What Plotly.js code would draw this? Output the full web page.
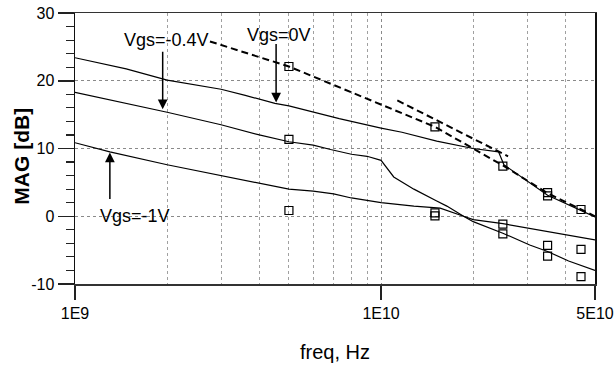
<!DOCTYPE html>
<html>
<head>
<meta charset="utf-8">
<script src="https://cdn.plot.ly/plotly-3.0.1.min.js"></script>
<style>html,body{margin:0;padding:0;background:#fff}#chart{width:615px;height:365px}</style>
</head>
<body>
<div id="chart"></div>
<script>
// Simulated MAG curves (freq in Hz, MAG in dB)
const sim0V_freq = [1e9, 1.47e9, 2e9, 3e9, 3.6e9, 4.5e9, 5e9, 6.84e9, 7.3e9, 1e10, 1.17e10, 1.52e10, 2e10, 2.42e10, 2.52e10, 3.5e10, 4.56e10, 5e10];
const sim0V_mag  = [23.4, 21.75, 20.1, 18.75, 17.85, 16.65, 16.3, 14.75, 14.4, 13.0, 12.4, 11.1, 10.0, 9.5, 7.6, 3.1, 0.75, -0.1];

const simM04V_freq = [1e9, 2e9, 3e9, 4e9, 5e9, 6e9, 6.84e9, 8e9, 9e9, 1e10, 1.1e10, 1.28e10, 1.52e10, 1.64e10, 1.86e10, 2e10, 2.5e10, 3.06e10, 3.5e10, 4.1e10, 5e10];
const simM04V_mag  = [18.3, 15.35, 13.5, 12.0, 11.0, 10.5, 9.85, 9.15, 8.85, 8.25, 5.8, 4.0, 2.25, 1.5, 0.0, -0.8, -2.5, -4.25, -5.2, -6.6, -8.0];

const simM1V_freq = [1e9, 1.3e9, 2e9, 3e9, 4e9, 5e9, 6e9, 7e9, 8e9, 1e10, 1.28e10, 1.56e10, 1.86e10, 2e10, 2.5e10, 3.06e10, 3.9e10, 5e10];
const simM1V_mag  = [10.85, 9.5, 7.6, 6.0, 4.9, 4.0, 3.7, 3.3, 2.7, 2.0, 1.5, 1.2, 0.0, -0.5, -1.1, -1.8, -2.6, -3.5];

// Measured MAG (open squares)
const meas0V_freq = [5e9, 1.5e10, 2.5e10, 3.5e10, 3.5e10, 4.5e10];
const meas0V_mag  = [22.1, 13.2, 7.4, 3.5, 3.0, 1.0];
const measM04V_freq = [5e9, 1.5e10, 2.5e10, 3.5e10, 4.5e10];
const measM04V_mag  = [11.35, 0.5, -2.6, -5.9, -8.9];
const measM1V_freq = [5e9, 1.5e10, 2.5e10, 3.5e10, 4.5e10];
const measM1V_mag  = [0.85, 0.05, -1.15, -4.3, -4.9];

// Dashed guide lines
const dash1_freq = [2.76e9, 5e9, 1.5e10, 2.5e10, 3.5e10, 4.5e10, 5e10];
const dash1_mag  = [25.8, 22.1, 13.2, 7.5, 3.4, 1.0, 0.0];
const dash2_freq = [1.13e10, 2.6e10];
const dash2_mag  = [17.1, 8.85];

// Tick labels
const xTickVals = [1e9, 1e10, 5e10];
const xTickText = ['1E9', '1E10', '5E10'];
const xMinorVals = [2e9, 3e9, 4e9, 5e9, 6e9, 7e9, 8e9, 9e9, 2e10, 3e10, 4e10];
const yTickVals = [-10, 0, 10, 20, 30];
const yTickText = ['-10', '0', '10', '20', '30'];

// Bias labels and arrow tips
const labelText = ['Vgs=-0.4V', 'Vgs=0V', 'Vgs=-1V'];
const labelFreq = [1.99e9, 4.65e9, 1.57e9];
const labelMag  = [26.05, 26.8, 0.0];
const arrowFreq = [1.934e9, 4.54e9, 1.30e9];
const arrowMag  = [15.8, 16.8, 9.4];
const arrowLen  = [-59, -60, 48];

const FONT = 'Liberation Sans, Arial, Helvetica, sans-serif';

function solid(x, y) {
  return {x: x, y: y, type: 'scatter', mode: 'lines', line: {color: '#000', width: 1.2}, hoverinfo: 'skip'};
}
function dashed(x, y) {
  return {x: x, y: y, type: 'scatter', mode: 'lines', line: {color: '#000', width: 2, dash: '7px,4px'}, hoverinfo: 'skip'};
}
function squares(x, y) {
  return {x: x, y: y, type: 'scatter', mode: 'markers',
    marker: {symbol: 'square-open', size: 8, color: '#000', line: {width: 1.2, color: '#000'}}, hoverinfo: 'skip'};
}

const data = [
  solid(sim0V_freq, sim0V_mag),
  solid(simM04V_freq, simM04V_mag),
  solid(simM1V_freq, simM1V_mag),
  dashed(dash1_freq, dash1_mag),
  dashed(dash2_freq, dash2_mag),
  squares(meas0V_freq, meas0V_mag),
  squares(measM04V_freq, measM04V_mag),
  squares(measM1V_freq, measM1V_mag)
];

const annotations = [];
for (let i = 0; i < labelText.length; i++) {
  annotations.push({x: Math.log10(labelFreq[i]), y: labelMag[i], xref: 'x', yref: 'y',
    text: labelText[i], showarrow: false, font: {size: 18, color: '#000', family: FONT}});
  annotations.push({x: Math.log10(arrowFreq[i]), y: arrowMag[i], xref: 'x', yref: 'y',
    text: '', showarrow: true, ax: 0, ay: arrowLen[i], arrowhead: 2, arrowsize: 1.3,
    arrowwidth: 1.5, arrowcolor: '#000'});
}
// y-axis title
annotations.push({x: 0, y: 0.47, xref: 'paper', yref: 'paper', xanchor: 'center', yanchor: 'middle',
  xshift: -53, text: '<b>MAG [dB]</b>', textangle: -90, showarrow: false,
  font: {size: 21, color: '#000', family: FONT}});

const layout = {
  width: 615, height: 365,
  margin: {l: 75, r: 20, t: 13, b: 81, pad: 0},
  paper_bgcolor: '#fff', plot_bgcolor: '#fff',
  showlegend: false,
  font: {family: FONT, color: '#000', size: 16},
  xaxis: {
    type: 'log', range: [9, Math.log10(5e10)],
    tickmode: 'array', tickvals: xTickVals, ticktext: xTickText,
    ticks: 'outside', ticklen: 14, tickwidth: 1.5, tickcolor: '#222',
    tickfont: {size: 16, family: FONT},
    showgrid: true, gridcolor: '#8a8a8a', griddash: 'dot', gridwidth: 1,
    minor: {tickmode: 'array', tickvals: xMinorVals, ticks: '', showgrid: true,
            gridcolor: '#a0a0a0', griddash: 'dot', gridwidth: 1},
    showline: true, linecolor: '#333', linewidth: 1.5, mirror: true, zeroline: false,
    title: {text: 'freq, Hz', font: {size: 20, family: FONT}, standoff: 24}
  },
  yaxis: {
    range: [-10, 30], tickmode: 'array', tickvals: yTickVals, ticktext: yTickText,
    ticks: 'outside', ticklen: 16, tickwidth: 1.5, tickcolor: '#222',
    tickfont: {size: 16, family: FONT},
    minor: {dtick: 2, ticks: 'outside', ticklen: 8, tickwidth: 1.2, tickcolor: '#222', showgrid: false},
    showgrid: true, gridcolor: '#8a8a8a', griddash: 'dot', gridwidth: 1,
    showline: true, linecolor: '#111', linewidth: 1.5, mirror: true, zeroline: false
  },
  annotations: annotations
};

Plotly.newPlot('chart', data, layout, {displayModeBar: false, staticPlot: true});
</script>
</body>
</html>
